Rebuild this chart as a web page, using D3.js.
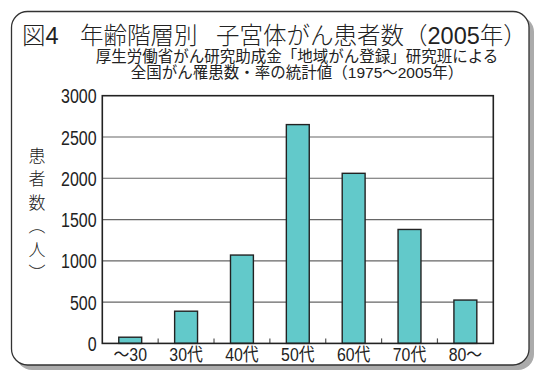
<!DOCTYPE html>
<html><head><meta charset="utf-8">
<script src="https://cdn.jsdelivr.net/npm/d3@7"></script>
<style>
html,body{margin:0;padding:0;background:#fff;}
svg{display:block;}
text{font-family:"Liberation Sans","Noto Sans CJK JP",sans-serif;fill:#222;}
</style></head><body>
<svg id="c" width="540" height="379"></svg>
<script>
const categories = ["～30","30代","40代","50代","60代","70代","80～"];
const values = [75, 390, 1070, 2650, 2060, 1380, 525];
const yTicks = [0, 500, 1000, 1500, 2000, 2500, 3000];
const titleParts = ["図4", "年齢階層別", "子宮体がん患者数（2005年）"];
const subtitle = ["厚生労働省がん研究助成金「地域がん登録」研究班による", "全国がん罹患数・率の統計値（1975～2005年）"];
const yLabel = "患者数（人）";

const svg = d3.select("#c");
// frame with shadow
svg.append("rect").attr("x",16).attr("y",16).attr("width",518).attr("height",354).attr("rx",16).attr("fill","#ababab");
svg.append("rect").attr("x",11.5).attr("y",11.5).attr("width",517.5).attr("height",353.5).attr("rx",16)
  .attr("fill","#fff").attr("stroke","#333").attr("stroke-width",1.3);

// title
const tx = [22, 80, 216];
svg.selectAll("text.title").data(titleParts).enter().append("text").attr("class","title")
  .attr("x",(d,i)=>tx[i]).attr("y",44).attr("font-size",23.5).attr("font-weight",300).text(d=>d);
svg.selectAll("text.sub").data(subtitle).enter().append("text").attr("class","sub")
  .attr("x",297).attr("y",(d,i)=>62+i*15.5).attr("text-anchor","middle").attr("font-size",15.5).text(d=>d);

const pL=102.3, pR=493.3, pT=95.7, pB=343.4;
const x = d3.scaleBand().domain(categories).range([pL,pR]).paddingInner(0.59).paddingOuter(0.295);
const y = d3.scaleLinear().domain([0,3000]).range([pB,pT]);

// gridlines
svg.append("g").selectAll("line").data(yTicks.filter(d=>d>0&&d<3000)).enter().append("line")
  .attr("x1",pL).attr("x2",pR).attr("y1",d=>y(d)).attr("y2",d=>y(d))
  .attr("stroke","#666").attr("stroke-width",1.2);

// bottom tick marks at band boundaries
const half = (x.step()-x.bandwidth())/2;
svg.append("g").selectAll("line").data(categories.slice(1)).enter().append("line")
  .attr("x1",d=>x(d)-half).attr("x2",d=>x(d)-half).attr("y1",pB).attr("y2",pB-5)
  .attr("stroke","#555").attr("stroke-width",1.2);

// bars
svg.append("g").selectAll("rect").data(values).enter().append("rect")
  .attr("x",(d,i)=>x(categories[i])).attr("width",x.bandwidth())
  .attr("y",d=>y(d)).attr("height",d=>pB-y(d))
  .attr("fill","#62c9ca").attr("stroke","#222").attr("stroke-width",1.4);

// plot border
svg.append("rect").attr("x",pL).attr("y",pT).attr("width",pR-pL).attr("height",pB-pT)
  .attr("fill","none").attr("stroke","#222").attr("stroke-width",1.6);

// y axis labels
const yAxis = d3.axisLeft(y).tickValues(yTicks).tickFormat(d3.format("d")).tickSize(0).tickPadding(7);
const gy = svg.append("g").attr("transform",`translate(${pL},0)`).call(yAxis);
gy.select(".domain").remove();
gy.selectAll("text").attr("font-size",19.5).attr("fill","#222").attr("transform","scale(0.82,1)").attr("dy","0.36em");
gy.attr("font-family",null).attr("font-size",null);

// x axis labels
const xAxis = d3.axisBottom(x).tickSize(0).tickPadding(5);
const gx = svg.append("g").attr("transform",`translate(0,${pB})`).call(xAxis);
gx.select(".domain").remove();
gx.selectAll("text").attr("font-size",18).attr("fill","#222").attr("transform","scale(0.88,1)");
gx.attr("font-family",null).attr("font-size",null);

// vertical y label
svg.append("text").attr("x",35).attr("y",147)
  .style("writing-mode","vertical-rl").style("letter-spacing","6.5px")
  .attr("font-size",17).attr("font-weight",300).text(yLabel);
</script></body></html>
